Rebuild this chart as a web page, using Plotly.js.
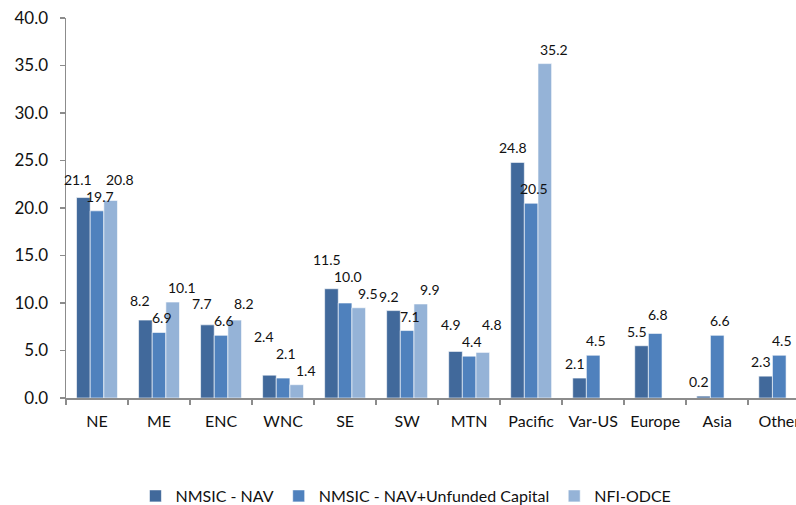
<!DOCTYPE html>
<html>
<head>
<meta charset="utf-8">
<script src="https://cdn.plot.ly/plotly-3.0.1.min.js"></script>
<style>html,body{margin:0;padding:0;background:#fff;overflow:hidden;width:796px;height:505px;}#chart{width:796px;height:513px;}</style>
</head>
<body>
<div id="chart"></div>
<script>
const categories = ["NE","ME","ENC","WNC","SE","SW","MTN","Pacific","Var-US","Europe","Asia","Other"];
const navValues = [21.1, 8.2, 7.7, 2.4, 11.5, 9.2, 4.9, 24.8, 2.1, 5.5, 0.2, 2.3];
const navUnfundedValues = [19.7, 6.9, 6.6, 2.1, 10.0, 7.1, 4.4, 20.5, 4.5, 6.8, 6.6, 4.5];
const odceValues = [20.8, 10.1, 8.2, 1.4, 9.5, 9.9, 4.8, 35.2, null, null, null, null];
const seriesNames = ["NMSIC - NAV", "NMSIC - NAV+Unfunded Capital", "NFI-ODCE"];
const yTicks = [0, 5, 10, 15, 20, 25, 30, 35, 40];

const colors = ["#41699B", "#4F81BD", "#95B3D7"];
const seriesData = [navValues, navUnfundedValues, odceValues];
const FONT = "Lato, 'Open Sans', sans-serif";

const traces = seriesData.map((vals, i) => ({
  type: "bar",
  name: seriesNames[i],
  x: categories,
  y: vals,
  marker: {color: colors[i], line: {color: "#ffffff", width: 0.6}},
  hoverinfo: "skip"
}));

// ---- data labels: annotations anchored at the data values, with a simple
// collision pass that lifts the larger-valued label when two labels collide
const FIG_H = 513;   // figure slightly taller than the 505px window; bottom is cropped like the original
const M = {l: 66, r: 0, t: 18, b: 115};
const plotH = FIG_H - M.t - M.b;
const pxPerUnit = plotH / 40;
const barPx = 13.6;
const xOff = [-barPx - 5, 3, barPx + 9];   // label centre offsets from group centre (px)
const baseGap = 4;                          // px between bar top and label bottom
const labW = 27, labH = 17;

const annotations = [];
categories.forEach((cat, j) => {
  const labs = [];
  seriesData.forEach((vals, i) => {
    const v = vals[j];
    if (v === null || v === undefined) return;
    labs.push({i, v, bottom: v * pxPerUnit + baseGap});
  });
  for (let iter = 0; iter < 12; iter++) {
    let moved = false;
    for (let a = 0; a < labs.length; a++) {
      for (let b = a + 1; b < labs.length; b++) {
        const A = labs[a], B = labs[b];
        if (Math.abs(xOff[A.i] - xOff[B.i]) >= labW) continue;
        if (Math.abs(A.bottom - B.bottom) >= labH) continue;
        const hi = (A.v > B.v) ? A : B;
        const lo = (hi === A) ? B : A;
        hi.bottom = lo.bottom + labH;
        moved = true;
      }
    }
    if (!moved) break;
  }
  labs.forEach(L => {
    annotations.push({
      x: cat, y: L.v, xref: "x", yref: "y",
      text: L.v.toFixed(1), showarrow: false,
      yanchor: "bottom", xanchor: "center",
      xshift: xOff[L.i], yshift: L.bottom - L.v * pxPerUnit,
      font: {family: FONT, size: 14, color: "#111"}
    });
  });
});

const layout = {
  width: 796, height: FIG_H,
  margin: M,
  paper_bgcolor: "#ffffff", plot_bgcolor: "#ffffff",
  barmode: "group", bargap: 0.34, bargroupgap: 0,
  font: {family: FONT, size: 16, color: "#111"},
  showlegend: true,
  legend: {
    orientation: "h", xref: "container", yref: "container",
    x: 0.51, xanchor: "center", y: 0, yanchor: "bottom",
    font: {family: FONT, size: 16, color: "#111"},
    itemwidth: 30, traceorder: "normal"
  },
  xaxis: {
    type: "category",
    range: [-0.5, 11.27],
    tickangle: 0, automargin: false,
    showline: true, linecolor: "#8c8c8c", linewidth: 1.5,
    ticks: "outside", tickson: "boundaries", ticklen: 5, tickcolor: "#8c8c8c", tickwidth: 1.5,
    ticklabelstandoff: 8,
    tickfont: {family: FONT, size: 16, color: "#111"},
    showgrid: false, zeroline: false, fixedrange: true
  },
  yaxis: {
    range: [0, 40],
    tickvals: yTicks, ticktext: yTicks.map(v => v.toFixed(1)),
    showline: true, linecolor: "#8c8c8c", linewidth: 1.5,
    ticks: "outside", ticklen: 5, tickcolor: "#8c8c8c", tickwidth: 1.5,
    ticklabelstandoff: 8, automargin: false,
    tickfont: {family: FONT, size: 17, color: "#111"},
    showgrid: false, zeroline: false, fixedrange: true
  },
  annotations: annotations
};

Plotly.newPlot("chart", traces, layout, {displayModeBar: false, staticPlot: true});
</script>
</body>
</html>
